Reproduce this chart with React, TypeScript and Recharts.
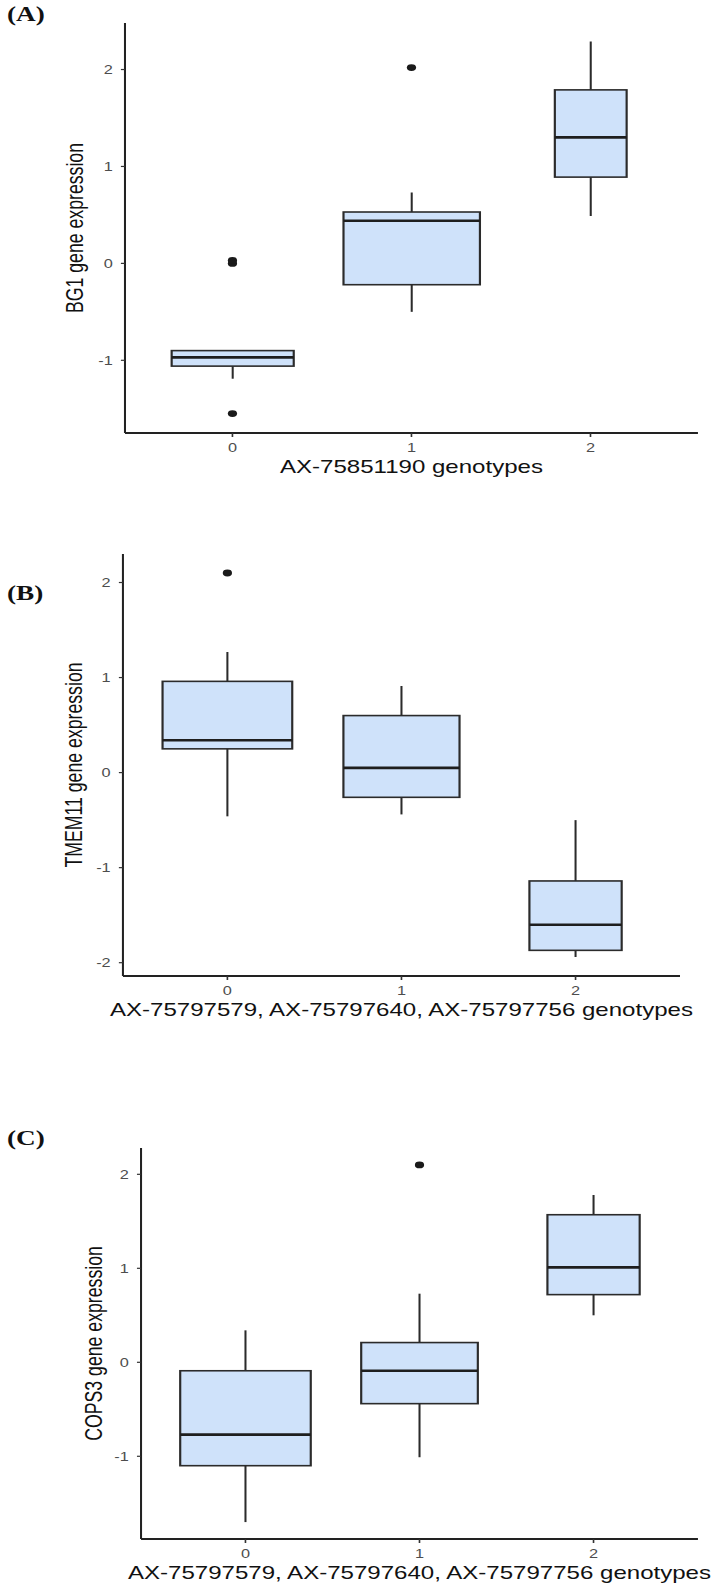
import { ComposedChart, Bar, Line, XAxis, YAxis } from 'recharts'

// the source figure is stretched sideways, so every panel is drawn narrow and scaled in x
const STRETCH = 1.36
const CHART_W = 524

const GENOTYPES = ['0', '1', '2']

// (A) BG1 vs AX-75851190
const bg1Low = [-1.19, -0.5, 0.49]
const bg1Q1 = [-1.06, -0.22, 0.89]
const bg1Median = [-0.97, 0.44, 1.3]
const bg1Q3 = [-0.9, 0.53, 1.79]
const bg1High = [-0.9, 0.73, 2.29]
const bg1BoxWidth = [0.68, 0.76, 0.4]
const bg1Outliers = [[0.0, 0.03, -1.55], [2.02], []]
const bg1Ticks = [-1, 0, 1, 2]

// (B) TMEM11
const tmemLow = [-0.46, -0.44, -1.94]
const tmemQ1 = [0.25, -0.26, -1.87]
const tmemMedian = [0.34, 0.05, -1.6]
const tmemQ3 = [0.96, 0.6, -1.14]
const tmemHigh = [1.27, 0.91, -0.5]
const tmemBoxWidth = [0.745, 0.667, 0.53]
const tmemOutliers = [[2.1], [], []]
const tmemTicks = [-2, -1, 0, 1, 2]

// (C) COPS3
const copsLow = [-1.7, -1.01, 0.5]
const copsQ1 = [-1.1, -0.44, 0.72]
const copsMedian = [-0.77, -0.09, 1.01]
const copsQ3 = [-0.09, 0.21, 1.57]
const copsHigh = [0.34, 0.73, 1.78]
const copsBoxWidth = [0.75, 0.67, 0.53]
const copsOutliers = [[], [2.1], []]
const copsTicks = [-1, 0, 1, 2]

const OUTLIER_KEYS = ['o0', 'o1', 'o2']

function buildRows(
  low: number[], q1: number[], median: number[], q3: number[], high: number[],
  boxWidth: number[], outliers: number[][],
) {
  return GENOTYPES.map((g, i) => {
    const row: Record<string, any> = {
      g, box: [q1[i], q3[i]],
      low: low[i], q1: q1[i], median: median[i], q3: q3[i], high: high[i], bw: boxWidth[i],
    }
    outliers[i].forEach((v, j) => { row[OUTLIER_KEYS[j]] = v })
    return row
  })
}

const PANELS = [
  {
    tag: '(A)', tagTop: 4, top: 0, height: 483,
    margin: { top: 23, right: 10.8, bottom: 0, left: 31.9 }, pad: 13.2, yTitleDist: 36.8,
    rows: buildRows(bg1Low, bg1Q1, bg1Median, bg1Q3, bg1High, bg1BoxWidth, bg1Outliers),
    domain: [-1.75, 2.48], ticks: bg1Ticks,
    yTitle: 'BG1 gene expression', xTitle: 'AX-75851190 genotypes',
  },
  {
    tag: '(B)', tagTop: 583, top: 520, height: 506,
    margin: { top: 34, right: 24, bottom: 0, left: 30.4 }, pad: 12.8, yTitleDist: 36.7,
    rows: buildRows(tmemLow, tmemQ1, tmemMedian, tmemQ3, tmemHigh, tmemBoxWidth, tmemOutliers),
    domain: [-2.14, 2.3], ticks: tmemTicks,
    yTitle: 'TMEM11 gene expression', xTitle: 'AX-75797579, AX-75797640, AX-75797756 genotypes',
  },
  {
    tag: '(C)', tagTop: 1128, top: 1100, height: 483,
    margin: { top: 48, right: 10.8, bottom: 0, left: 43.7 }, pad: 12.8, yTitleDist: 35.3,
    rows: buildRows(copsLow, copsQ1, copsMedian, copsQ3, copsHigh, copsBoxWidth, copsOutliers),
    domain: [-1.88, 2.28], ticks: copsTicks,
    yTitle: 'COPS3 gene expression', xTitle: 'AX-75797579, AX-75797640, AX-75797756 genotypes',
  },
]

const INK = '#2b2b2b'

function BoxShape(props: any) {
  const { x, y, width, height, payload } = props
  if (payload == null || height == null) return null
  const top = Math.min(y, y + height)
  const h = Math.abs(height)
  const k = h / (payload.q3 - payload.q1)
  const py = (v: number) => top + (payload.q3 - v) * k
  const cx = x + width / 2
  const bw = width * payload.bw
  const left = cx - bw / 2
  return (
    <g>
      <line x1={cx} x2={cx} y1={py(payload.high)} y2={top} stroke={INK} strokeWidth={1.5} />
      <line x1={cx} x2={cx} y1={top + h} y2={py(payload.low)} stroke={INK} strokeWidth={1.5} />
      <rect x={left} y={top} width={bw} height={h} fill="#cfe2fa" stroke={INK} strokeWidth={1.6} />
      <line x1={left} x2={left + bw} y1={py(payload.median)} y2={py(payload.median)} stroke="#1e1e1e" strokeWidth={2.6} />
    </g>
  )
}

function YTitle(props: any) {
  const vb = props.viewBox || {}
  const cx = vb.x + vb.width - props.dist
  const cy = vb.y + vb.height / 2
  return (
    <text x={cx} y={cy} transform={`rotate(-90 ${cx} ${cy})`} textAnchor="middle"
      dominantBaseline="central" fontSize={17.7} fill="#111">
      {props.title}
    </text>
  )
}

function XTitle(props: any) {
  const vb = props.viewBox || {}
  return (
    <text x={vb.x + vb.width / 2} y={vb.y + 34} textAnchor="middle"
      dominantBaseline="central" fontSize={17.7} fill="#111">
      {props.title}
    </text>
  )
}

export default function App() {
  return (
    <div style={{
      position: 'absolute', left: 0, top: 0, width: 712, height: 1583, overflow: 'hidden',
      background: '#fff', fontFamily: '"Liberation Sans", Arial, sans-serif',
    }}>
      {PANELS.map(p => (
        <div key={p.tag}>
          <div style={{
            position: 'absolute', left: 7, top: p.tagTop, fontFamily: '"Liberation Serif", serif',
            fontWeight: 'bold', fontSize: 20, lineHeight: '20px', color: '#111',
            transform: `scaleX(${STRETCH})`, transformOrigin: '0 0',
          }}>
            {p.tag}
          </div>
          <div style={{
            position: 'absolute', left: 0, top: p.top, width: CHART_W, height: p.height,
            transform: `scaleX(${STRETCH})`, transformOrigin: '0 0',
          }}>
            <ComposedChart width={CHART_W} height={p.height} data={p.rows} margin={p.margin}
              barCategoryGap="0%" barGap={0}>
              <XAxis
                dataKey="g" type="category" padding={{ left: p.pad, right: p.pad }}
                height={p.tag === '(C)' ? 44 : 50}
                axisLine={{ stroke: '#222', strokeWidth: 2 }}
                tickLine={{ stroke: '#333', strokeWidth: 1.2 }}
                tickSize={4} tickMargin={6}
                tick={{ fontSize: 12, fill: '#4d4d4d' }}
                label={<XTitle title={p.xTitle} />}
              />
              <YAxis
                type="number" domain={p.domain} ticks={p.ticks} allowDataOverflow
                width={60}
                axisLine={{ stroke: '#222', strokeWidth: 1.5 }}
                tickLine={{ stroke: '#333', strokeWidth: 1.2 }}
                tickSize={3} tickMargin={6}
                tick={{ fontSize: 12, fill: '#4d4d4d' }}
                label={<YTitle title={p.yTitle} dist={p.yTitleDist} />}
              />
              <Bar dataKey="box" shape={<BoxShape />} isAnimationActive={false} />
              {OUTLIER_KEYS.map(k => (
                <Line key={k} dataKey={k} stroke="none" strokeWidth={0} legendType="none"
                  dot={{ r: 3.4, fill: '#1a1a1a', stroke: 'none' }} activeDot={false}
                  isAnimationActive={false} />
              ))}
            </ComposedChart>
          </div>
        </div>
      ))}
    </div>
  )
}
